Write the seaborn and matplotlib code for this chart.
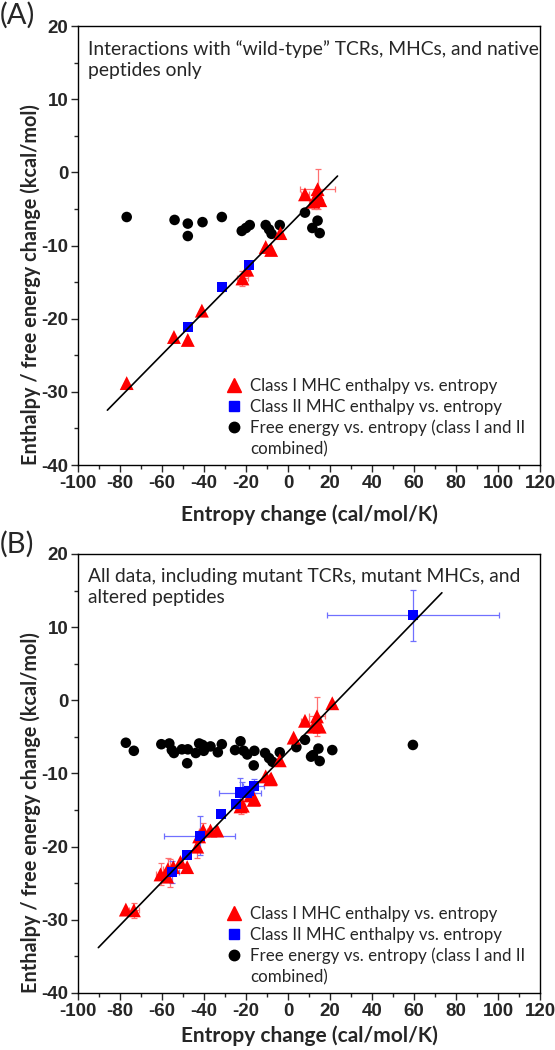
import matplotlib
matplotlib.use("Agg")
import matplotlib.pyplot as plt
import seaborn as sns
from matplotlib.lines import Line2D

# ---------------- data ----------------
# panel A: wild-type TCRs, MHCs and native peptides only
a_cls1_x = [-76.8, -54.3, -47.7, -41.0, -21.7, -19.4, -10.6, -8.0, -3.6, 8.1, 12.2, 14.1, 14.1, 15.4]
a_cls1_y = [-28.8, -22.5, -22.9, -18.9, -14.5, -13.3, -10.2, -10.6, -8.3, -3.0, -4.0, -2.3, -3.0, -3.8]
a_cls2_x = [-47.7, -31.5, -18.5]
a_cls2_y = [-21.2, -15.6, -12.7]
a_free_x = [-76.8, -54.0, -47.7, -47.7, -40.7, -31.5, -22.0, -20.0, -18.2, -10.6, -9.0, -7.8,
            -3.9, 8.1, 11.6, 14.1, 15.1]
a_free_y = [-6.1, -6.5, -7.0, -8.7, -6.8, -6.1, -8.0, -7.6, -7.2, -7.2, -7.8, -8.4,
            -7.2, -5.5, -7.6, -6.6, -8.3]
a_fit_x = [-86.0, 23.6]
a_fit_y = [-32.5, -0.5]
# error bars (x, y, xerr, yerr)
a_err1_x = [14.1, 8.1, 12.2, -21.7, -19.4]
a_err1_y = [-2.3, -3.0, -4.0, -14.5, -13.3]
a_err1_dx = [8.5, 2.0, 2.0, 2.5, 0.0]
a_err1_dy = [2.7, 0.0, 1.0, 1.0, 0.8]

# panel B: all data
b_cls1_x = [21.1, 8.1, 13.8, 15.1, 12.2, 13.8, 2.7, -3.9, -10.6, -8.0, -8.4, -16.0, -16.3, -17.9,
            -22.6, -21.5, -33.7, -36.9, -40.4, -42.3, -43.2, -48.0, -51.2, -54.6, -57.2, -60.7,
            -57.5, -77.2, -73.4]
b_cls1_y = [-0.4, -2.8, -2.2, -3.6, -3.6, -3.0, -5.1, -8.2, -10.4, -10.7, -10.8, -13.5, -13.6, -13.0,
            -14.5, -14.4, -17.8, -17.8, -17.8, -18.6, -20.0, -22.8, -22.1, -22.8, -23.1, -23.8,
            -24.1, -28.6, -28.7]
b_cls2_x = [59.5, -42.0, -32.1, -48.0, -55.0, -23.0, -24.9, -16.3, -19.4, -21.7, -18.5]
b_cls2_y = [11.6, -18.5, -15.5, -21.1, -23.5, -12.6, -14.2, -11.7, -12.7, -12.7, -12.4]
b_free_x = [-77.2, -73.4, -60.3, -56.5, -55.3, -54.3, -50.5, -47.7, -48.0, -43.9, -42.3, -40.7,
            -40.1, -36.9, -33.4, -31.5, -22.6, -25.2, -21.1, -19.4, -16.0, -16.3, -10.9, -9.0,
            -7.4, -3.9, 4.0, 8.1, 11.0, 14.5, 15.1, 11.9, 21.1, 59.5]
b_free_y = [-5.8, -6.9, -6.0, -5.9, -6.8, -7.2, -6.7, -6.7, -8.6, -7.2, -5.9, -6.1,
            -6.9, -6.3, -7.1, -6.0, -5.6, -6.8, -6.9, -7.4, -6.9, -8.9, -7.2, -7.9,
            -8.4, -7.1, -6.4, -5.4, -7.7, -6.6, -8.3, -7.5, -6.8, -6.1]
b_fit_x = [-90.3, 73.3]
b_fit_y = [-33.8, 14.7]
b_err1_x = [13.8, 8.1, -22.6, -40.4, -43.2, -56.0, -57.2, -60.7, -73.4]
b_err1_y = [-2.2, -2.8, -14.5, -17.8, -20.0, -23.6, -23.1, -23.8, -28.7]
b_err1_dx = [4.0, 2.0, 2.0, 2.0, 0.0, 0.0, 2.5, 2.0, 2.5]
b_err1_dy = [2.7, 0.0, 1.0, 1.0, 1.5, 1.9, 1.5, 1.5, 1.0]
b_err2_x = [59.5, -42.0, -23.0, -55.0, -16.3, -21.7]
b_err2_y = [11.6, -18.5, -12.6, -23.5, -11.7, -12.7]
b_err2_dx = [41.0, 17.0, 10.0, 3.0, 5.0, 3.0]
b_err2_dy = [3.5, 2.7, 2.0, 1.5, 1.0, 1.5]

x_ticks = [-100, -80, -60, -40, -20, 0, 20, 40, 60, 80, 100, 120]
y_ticks = [-40, -30, -20, -10, 0, 10, 20]
# legend rows (the free-energy label wraps onto a fourth row)
labels = ["Class I MHC enthalpy vs. entropy",
          "Class II MHC enthalpy vs. entropy",
          "Free energy vs. entropy (class I and II",
          "combined)"]
notes = ["Interactions with \u201cwild-type\u201d TCRs, MHCs, and native\npeptides only",
         "All data, including mutant TCRs, mutant MHCs, and\naltered peptides"]

sns.set_style("ticks")
plt.rcParams['font.family'] = ['Lato', 'DejaVu Sans']
plt.rcParams['axes.linewidth'] = 1.0

RED = "#ff0000"
BLUE = "#0000ff"
fig = plt.figure(figsize=(5.55, 10.5), dpi=100)
ax_a = fig.add_axes([0.1405, 0.5571, 0.8324, 0.4181])
ax_b = fig.add_axes([0.1405, 0.0543, 0.8324, 0.4181])

tick_font = dict(family='Liberation Sans', weight='bold', size=13.5)


def draw_panel(ax, c1x, c1y, c2x, c2y, fx, fy, linex, liney, errs, note, xpad):
    for ex, ey, edx, edy, col in errs:
        ax.errorbar(ex, ey, xerr=edx, yerr=edy, fmt='none', ecolor=col, elinewidth=0.9,
                    capsize=2.5, capthick=0.9, zorder=2)
    sns.lineplot(x=linex, y=liney, color='black', linewidth=1.2, ax=ax, zorder=4)
    sns.scatterplot(x=fx, y=fy, marker='o', s=58, color='black', edgecolor='none', ax=ax, zorder=3)
    sns.scatterplot(x=c1x, y=c1y, marker='^', s=100, color=RED, edgecolor='none', ax=ax, zorder=3)
    sns.scatterplot(x=c2x, y=c2y, marker='s', s=52, color=BLUE, edgecolor='none', ax=ax, zorder=3)

    ax.set_xlim(-100, 120)
    ax.set_ylim(-40, 20)
    ax.set_xticks(x_ticks)
    ax.set_xticklabels([str(v) for v in x_ticks], fontdict=tick_font)
    ax.set_xticks(list(range(-90, 120, 20)), minor=True)
    ax.set_yticks(y_ticks)
    ax.set_yticklabels([str(v) for v in y_ticks], fontdict=tick_font)
    ax.set_yticks(list(range(-35, 20, 10)), minor=True)
    ax.tick_params(which='major', length=5, width=1, direction='out', pad=2)
    ax.tick_params(which='minor', length=3, width=1, direction='out')
    ax.set_xlabel("Entropy change (cal/mol/K)", fontsize=15, fontweight='bold', labelpad=xpad)
    ax.set_ylabel("Enthalpy / free energy change (kcal/mol)", fontsize=14.3, fontweight='bold')
    ax.yaxis.set_label_coords(-0.079, 0.41)
    for s in ax.spines.values():
        s.set_visible(True)
        s.set_color('black')

    ax.text(0.022, 0.968, note, transform=ax.transAxes, ha='left', va='top',
            fontsize=13.9, linespacing=1.3)

    handles = [Line2D([], [], marker='^', linestyle='none', color=RED, markersize=10.5),
               Line2D([], [], marker='s', linestyle='none', color=BLUE, markersize=7.5),
               Line2D([], [], marker='o', linestyle='none', color='black', markersize=7.5),
               Line2D([], [], marker=None, linestyle='none')]
    ax.legend(handles, labels, loc='lower left', bbox_to_anchor=(0.29, -0.01), frameon=False,
              fontsize=12.2, handletextpad=0.35, labelspacing=0.3, handlelength=1.2,
              borderpad=0.2)


draw_panel(ax_a, a_cls1_x, a_cls1_y, a_cls2_x, a_cls2_y, a_free_x, a_free_y, a_fit_x, a_fit_y,
           [(a_err1_x, a_err1_y, a_err1_dx, a_err1_dy, "#ff7070")], notes[0], 9)
draw_panel(ax_b, b_cls1_x, b_cls1_y, b_cls2_x, b_cls2_y, b_free_x, b_free_y, b_fit_x, b_fit_y,
           [(b_err1_x, b_err1_y, b_err1_dx, b_err1_dy, "#ff7070"),
            (b_err2_x, b_err2_y, b_err2_dx, b_err2_dy, "#7070ff")], notes[1], 4)

fig.text(0.0, 0.998, "(A)", fontsize=21, ha='left', va='top')
fig.text(0.0, 0.494, "(B)", fontsize=21, ha='left', va='top')

fig.savefig("out.png", dpi=100)
